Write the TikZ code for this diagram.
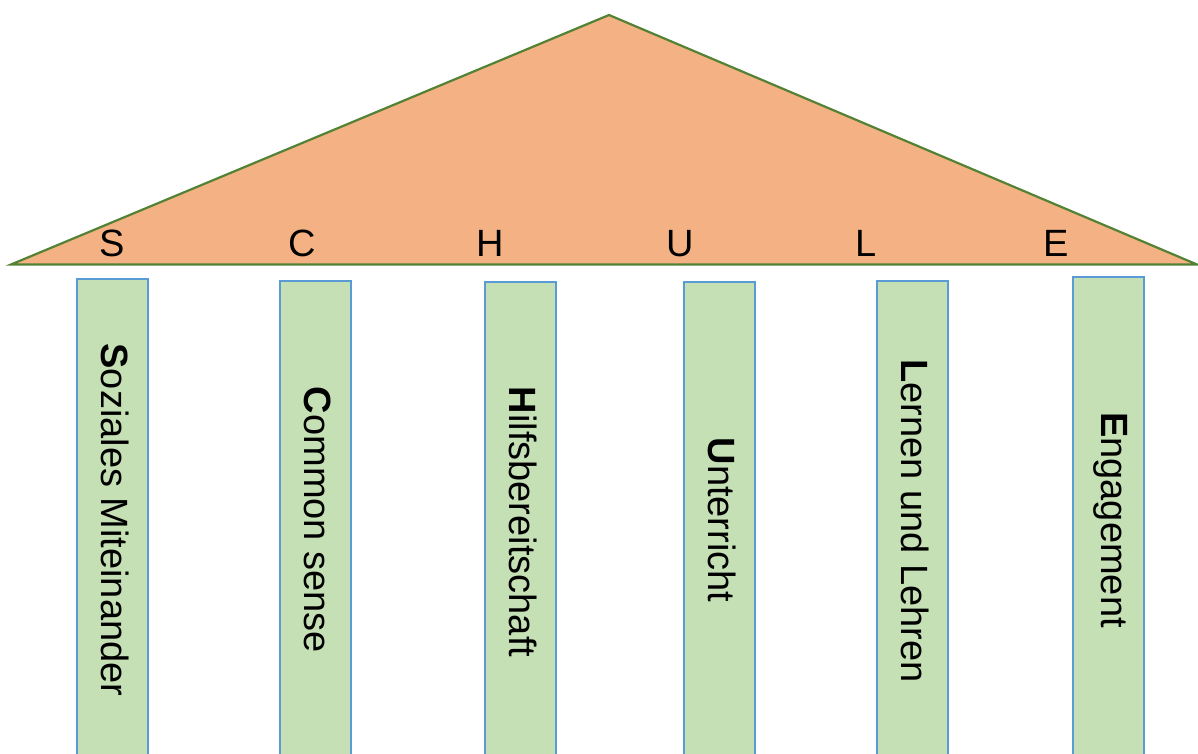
\documentclass[tikz,border=0pt]{standalone}
\usepackage{fontspec}
\setmainfont{Liberation Sans}
\definecolor{roof}{HTML}{F4B183}
\definecolor{roofline}{HTML}{548235}
\definecolor{colfill}{HTML}{C5E0B4}
\definecolor{colline}{HTML}{5B9BD5}
\begin{document}
\begin{tikzpicture}[x=1pt,y=-1pt,
  pillar/.style={draw=colline,fill=colfill,line width=2.2pt},
  ptext/.style={rotate=-90,font=\fontsize{38}{40}\selectfont,inner sep=0pt},
  roofletter/.style={anchor=base,font=\fontsize{38}{40}\selectfont,inner sep=0pt}]
\useasboundingbox (0,0) rectangle (1198,753);
\clip (0,0) rectangle (1198,753);
\draw[fill=roof,draw=roofline,line width=2.2pt,line join=miter]
  (11,264.5) coordinate (bl) -- (609,15) coordinate (apex) -- (1197,264.5) coordinate (br) -- cycle;
\node[roofletter] (lS) at (112,256) {S};
\node[roofletter] (lC) at (302,256) {C};
\node[roofletter] (lH) at (490,256) {H};
\node[roofletter] (lU) at (680,256) {U};
\node[roofletter] (lL) at (866,256) {L};
\node[roofletter] (lE) at (1056,256) {E};
\draw[pillar] (77,279) rectangle (148,770);
\draw[pillar] (280,281) rectangle (351,770);
\draw[pillar] (485,282) rectangle (556,770);
\draw[pillar] (684,282) rectangle (755,770);
\draw[pillar] (877,281) rectangle (948,770);
\draw[pillar] (1073,277) rectangle (1144,770);
\node[ptext] (t1) at (115,520) {\textbf{S}oziales Miteinander};
\node[ptext] (t2) at (318,520) {\textbf{C}ommon sense};
\node[ptext] (t3) at (523,522) {\textbf{H}ilfsbereitschaft};
\node[ptext] (t4) at (722,520) {\textbf{U}nterricht};
\node[ptext] (t5) at (915,521) {\textbf{L}ernen und Lehren};
\node[ptext] (t6) at (1111,520) {\textbf{E}ngagement};
\end{tikzpicture}
\end{document}
